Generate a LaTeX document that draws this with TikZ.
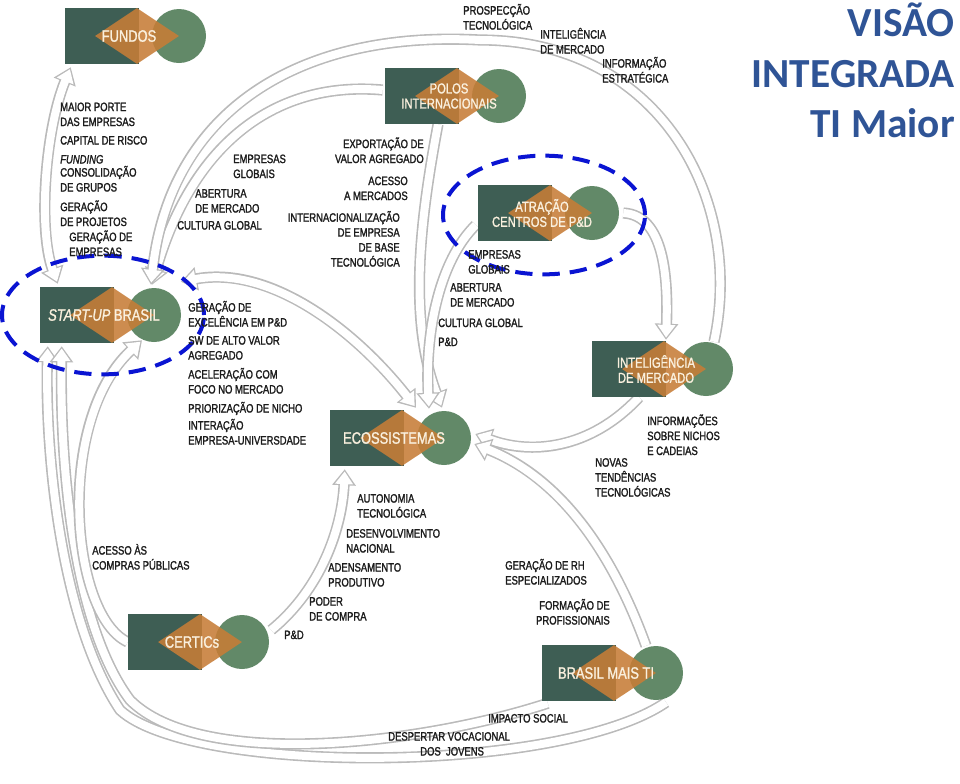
\documentclass[tikz,border=0pt]{standalone}
\usepackage{fontspec}
\setmainfont{Liberation Sans}
\newfontfamily\lab[FakeStretch=0.78,FakeBold=1.6]{Liberation Sans}
\newfontfamily\hubfont[FakeStretch=0.78,FakeBold=1.2]{Liberation Sans}
\newfontfamily\ttlfont{Carlito}
\usetikzlibrary{shapes.geometric,arrows.meta}
\pgfdeclarelayer{bg}
\pgfsetlayers{bg,main}
\definecolor{hubrect}{RGB}{62,94,84}
\definecolor{hubcirc}{RGB}{98,137,104}
\definecolor{hubdia}{RGB}{199,125,55}
\definecolor{hubtext}{RGB}{250,240,222}
\definecolor{ttl}{RGB}{47,84,150}
\definecolor{dashblue}{RGB}{10,20,210}
\definecolor{labtext}{RGB}{28,28,28}
\newcommand\hub[5]{%
  \node[hubrectS] (#1) at (#2+37,#3) {};
  \node[hubcircS] (#1-c) at (#2+114,#3) {};
  \node[hubdiaS] (#1-d) at (#2+72,#3) {};
  \node[hubtxtS,#5] (#1-t) at (#2+64,#3) {#4};
}
\newcommand\onearc[1]{%
  \draw[bandout,-{Triangle[length=12pt,width=17pt]}] #1;
  \draw[bandin,-{Triangle[length=9.5pt,width=13pt]},shorten >=1.6pt] #1;
}
\newcommand\twoarc[1]{%
  \draw[bandout,{Triangle[length=12pt,width=17pt]}-{Triangle[length=12pt,width=17pt]}] #1;
  \draw[bandin,{Triangle[length=9.5pt,width=13pt]}-{Triangle[length=9.5pt,width=13pt]},shorten >=1.6pt,shorten <=1.6pt] #1;
}
\begin{document}
\begin{tikzpicture}[x=0.75pt,y=-0.75pt,
  hubrectS/.style={rectangle,fill=hubrect,minimum width=55.5pt,minimum height=42pt,inner sep=0},
  hubcircS/.style={circle,fill=hubcirc,minimum size=40.5pt,inner sep=0},
  hubdiaS/.style={diamond,fill=hubdia,fill opacity=0.88,minimum width=63pt,minimum height=42pt,inner sep=0},
  hubtxtS/.style={text=hubtext,font=\hubfont\fontsize{12.4}{14}\selectfont,inner sep=0,align=center},
  two/.style={font=\hubfont\fontsize{10.8}{11.3}\selectfont},
  lab/.style={text=labtext,font=\lab\fontsize{9.1}{11.2}\selectfont,inner sep=0,align=left,anchor=base west},
  labr/.style={lab,align=right,anchor=base east},
  bandout/.style={draw=black!27,line width=8.4pt},
  bandin/.style={draw=white,line width=6pt},
  dashring/.style={draw=dashblue,line width=3pt,dash pattern=on 13pt off 7.5pt},
  ttlS/.style={text=ttl,font=\ttlfont\bfseries\fontsize{31}{38}\selectfont,inner sep=0,anchor=base east}
]
\useasboundingbox (0,0) rectangle (960,783);

% hubs
\hub{fundos}{65}{36}{FUNDOS}{}
\hub{polos}{385}{96}{POLOS\\INTERNACIONAIS}{two}
\hub{atracao}{478}{213}{ATRAÇÃO\\CENTROS DE P\&D}{two}
\hub{intel}{592}{369}{INTELIGÊNCIA\\DE MERCADO}{two}
\hub{eco}{330}{438}{ECOSSISTEMAS}{}
\hub{certics}{128}{642}{CERTICs}{}
\hub{bmti}{542}{673}{BRASIL MAIS TI}{}
\hub{start}{40}{315}{\textit{START-UP} BRASIL}{}

% connectors
\begin{pgfonlayer}{bg}
\fill[white] (0,0) rectangle (960,783);
\onearc{([shift={(10,2)}]bmti-c.south) .. controls (560,775) and (190,775) .. (120,710) .. controls (60,620) and (45,450) .. ([shift={(8,3)}]start.south west)}
\onearc{([shift={(6,2)}]bmti.south west) .. controls (420,745) and (200,770) .. (130,700) .. controls (70,620) and (60,450) .. ([shift={(22,3)}]start.south west)}
\twoarc{([shift={(6,3)}]fundos.south west) .. controls (45,130) and (38,230) .. ([shift={(18,-3)}]start.north west)}
\onearc{([shift={(-2,-6)}]polos.west) .. controls (270,80) and (190,150) .. ([shift={(-2,-3)}]start-c.north)}
\onearc{([shift={(8,0)}]intel-c.north) .. controls (745,200) and (660,40) .. (480,40) .. controls (300,30) and (170,110) .. ([shift={(-3,-3)}]start-c.north)}
\twoarc{([shift={(27,-6)}]start-c.north) .. controls (270,265) and (355,330) .. ([shift={(-28,-3)}]eco-c.north)}
\onearc{([shift={(16,0)}]polos.south) .. controls (420,220) and (408,320) .. ([shift={(-2,-3)}]eco-c.north)}
\onearc{([shift={(-2,12)}]atracao.west) .. controls (440,260) and (425,330) .. ([shift={(-15,-2)}]eco-c.north)}
\onearc{([shift={(4,0)}]atracao-c.east) .. controls (665,215) and (668,280) .. ([shift={(-40,-2)}]intel-c.north)}
\onearc{([shift={(10,0)}]intel.south) .. controls (590,450) and (530,455) .. ([shift={(4,-4)}]eco-c.east)}
\onearc{([shift={(-10,0)}]bmti-c.north) .. controls (615,560) and (565,480) .. ([shift={(3,6)}]eco-c.east)}
\onearc{([shift={(2,-12)}]certics-c.east) .. controls (320,590) and (342,530) .. ([shift={(15,3)}]eco.south west)}
\onearc{(certics.west) .. controls (70,615) and (55,420) .. ([shift={(-12,-2)}]start-c.south)}
\end{pgfonlayer}

% dashed rings
\draw[dashring] (103,315) ellipse [x radius=75.75pt, y radius=44.5pt];
\draw[dashring] (544,215) ellipse [x radius=75.75pt, y radius=44.5pt];

% labels (anchor = baseline of last line)
\node[lab] (f1) at (60,126) {MAIOR PORTE\\DAS EMPRESAS};
\node[lab] (f2) at (60,144.5) {CAPITAL DE RISCO};
\node[lab] (f3) at (60,163.5) {\itshape FUNDING};
\node[lab] (f4) at (60,191.5) {CONSOLIDAÇÃO\\DE GRUPOS};
\node[lab] (f5) at (60,226) {GERAÇÃO\\DE PROJETOS};
\node[lab] (f6) at (69,256) {GERAÇÃO DE\\EMPRESAS};

\node[lab] (p1) at (233,178) {EMPRESAS\\GLOBAIS};
\node[lab] (p2) at (195,212.5) {ABERTURA\\DE MERCADO};
\node[lab] (p3) at (177,229.5) {CULTURA GLOBAL};

\node[labr] (e1) at (424,163) {EXPORTAÇÃO DE\\VALOR AGREGADO};
\node[labr] (e2) at (408,200) {ACESSO\\A MERCADOS};
\node[labr] (e3) at (400,266.5) {INTERNACIONALIZAÇÃO\\DE EMPRESA\\DE BASE\\TECNOLÓGICA};

\node[lab] (t1) at (463,29.5) {PROSPECÇÃO\\TECNOLÓGICA};
\node[lab] (t2) at (540,53.5) {INTELIGÊNCIA\\DE MERCADO};
\node[lab] (t3) at (602,82.5) {INFORMAÇÃO\\ESTRATÉGICA};

\node[lab] (a1) at (468,273.5) {EMPRESAS\\GLOBAIS};
\node[lab] (a2) at (450,306.5) {ABERTURA\\DE MERCADO};
\node[lab] (a3) at (438,327) {CULTURA GLOBAL};
\node[lab] (a4) at (438,346) {P\&D};

\node[lab] (s1) at (188,326.5) {GERAÇÃO DE\\EXCELÊNCIA EM P\&D};
\node[lab] (s2) at (188,359.5) {SW DE ALTO VALOR\\AGREGADO};
\node[lab] (s3) at (188,393.5) {ACELERAÇÃO COM\\FOCO NO MERCADO};
\node[lab] (s4) at (188,412.5) {PRIORIZAÇÃO DE NICHO};
\node[lab] (s5) at (188,444.5) {INTERAÇÃO\\EMPRESA-UNIVERSDADE};

\node[lab] (i1) at (647,455) {INFORMAÇÕES\\SOBRE NICHOS\\E CADEIAS};
\node[lab] (i2) at (595,496.5) {NOVAS\\TENDÊNCIAS\\TECNOLÓGICAS};

\node[lab] (c1) at (357,517.5) {AUTONOMIA\\TECNOLÓGICA};
\node[lab] (c2) at (346,552.5) {DESENVOLVIMENTO\\NACIONAL};
\node[lab] (c3) at (328,586.5) {ADENSAMENTO\\PRODUTIVO};
\node[lab] (c4) at (309,620.5) {PODER\\DE COMPRA};
\node[lab] (c5) at (284,639) {P\&D};

\node[lab] (k1) at (92,569.5) {ACESSO ÀS\\COMPRAS PÚBLICAS};

\node[lab] (b1) at (505,584.5) {GERAÇÃO DE RH\\ESPECIALIZADOS};
\node[labr] (b2) at (610,624.5) {FORMAÇÃO DE\\PROFISSIONAIS};

\node[lab] (m1) at (488,722.5) {IMPACTO SOCIAL};
\node[lab] (m2) at (388,755.5) {DESPERTAR VOCACIONAL\\\hspace*{24pt}DOS \ JOVENS};

% title
\node[ttlS] (v1) at (955,36) {VISÃO};
\node[ttlS] (v2) at (955,87) {INTEGRADA};
\node[ttlS] (v3) at (955,137) {TI Maior};
\end{tikzpicture}
\end{document}
